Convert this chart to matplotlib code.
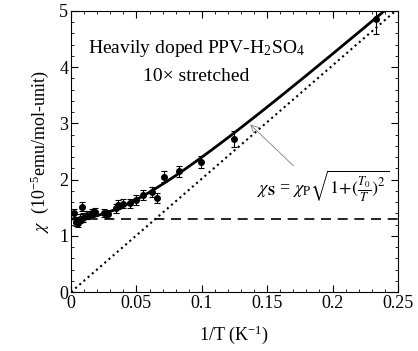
import numpy as np
from matplotlib import pyplot as plt
from matplotlib.ticker import MultipleLocator

plt.rcParams['font.family'] = ['Liberation Serif', 'DejaVu Serif']
plt.rcParams['mathtext.fontset'] = 'stix'

inv_t = [0.0023, 0.004, 0.005, 0.0065, 0.008, 0.009, 0.012, 0.016, 0.018, 0.025,
         0.0285, 0.034, 0.036, 0.040, 0.045, 0.0497, 0.055, 0.062, 0.066,
         0.071, 0.0826, 0.0994, 0.1246, 0.233]
chi = [1.40, 1.25, 1.23, 1.30, 1.52, 1.32, 1.37, 1.40, 1.42, 1.40,
       1.38, 1.49, 1.55, 1.57, 1.58, 1.64, 1.73, 1.78, 1.67,
       2.05, 2.15, 2.31, 2.72, 4.85]
chi_err = [0.08, 0.08, 0.08, 0.08, 0.08, 0.08, 0.07, 0.07, 0.07, 0.07,
           0.07, 0.08, 0.08, 0.08, 0.08, 0.09, 0.09, 0.09, 0.09,
           0.10, 0.10, 0.11, 0.14, 0.26]

# fit parameters
chi_p = 1.3
t0 = 15.5

fig = plt.figure(figsize=(4.18, 3.51), dpi=100)
ax = fig.add_axes([0.170, 0.168, 0.782, 0.801])

xx = np.linspace(0, 0.25, 300)
ax.plot(xx, chi_p * np.sqrt(1 + (t0 * xx) ** 2), 'k-', linewidth=2.0)
ax.axhline(y=chi_p, color='black', linestyle=(0, (6, 4)), linewidth=1.2)
ax.plot(xx, chi_p * t0 * xx, color='black', linestyle=':', linewidth=1.5)
ax.errorbar(inv_t, chi, yerr=chi_err, fmt='o', color='black', markersize=4,
            capsize=2, elinewidth=0.8, capthick=0.8)

ax.set_xlim(0, 0.25)
ax.set_ylim(0, 5)
ax.xaxis.set_major_locator(MultipleLocator(0.05))
ax.xaxis.set_minor_locator(MultipleLocator(0.01))
ax.yaxis.set_major_locator(MultipleLocator(1))
ax.yaxis.set_minor_locator(MultipleLocator(0.2))
ax.xaxis.set_major_formatter(plt.FuncFormatter(lambda v, p: '{:g}'.format(round(v, 3))))
ax.tick_params(which='both', direction='in', top=True, right=True, labelsize=13, pad=2)
ax.tick_params(which='major', length=5)
ax.tick_params(which='minor', length=2.5)

ax.set_xlabel(r'1/T (K$^{\mathregular{-1}}$)', fontsize=13, labelpad=8)
ax.set_ylabel(r'$\chi$  (10$^{\mathregular{-5}}$emu/mol-unit)', fontsize=13, labelpad=6)

ax.text(0.096, 4.33, r'Heavily doped PPV-H$_{\mathregular{2}}$SO$_{\mathregular{4}}$',
        ha='center', va='center', fontsize=14)
ax.text(0.096, 3.84, '10\u00d7 stretched', ha='center', va='center', fontsize=14)

ax.annotate(r'$\chi_{\mathbf{S}}$ = $\chi_{\mathrm{P}}\sqrt{1\!+\!(\frac{T_0}{T})^2}$',
            xy=(0.137, 2.98), xytext=(0.142, 1.88), fontsize=13,
            ha='left', va='center',
            arrowprops=dict(arrowstyle='->', color='gray', linewidth=0.6,
                            shrinkA=0, shrinkB=0, relpos=(0.3, 1.0)))

fig.savefig('out.png', dpi=100)
